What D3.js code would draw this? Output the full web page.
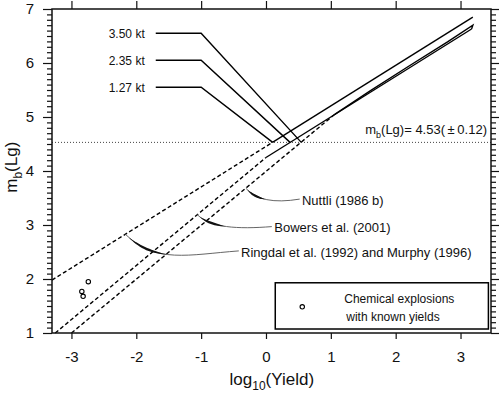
<!DOCTYPE html>
<html>
<head>
<meta charset="utf-8">
<script src="https://cdn.jsdelivr.net/npm/d3@7"></script>
<style>
  body { margin: 0; background: #fff; }
  svg { display: block; font-family: 'Liberation Sans', Arial, Helvetica, sans-serif; }
</style>
</head>
<body>
<div id="viz"></div>
<script>
const OUTER_WIDTH = 500;
const OUTER_HEIGHT = 394;
const MARGIN = { top: 9, right: 9, bottom: 61, left: 52 };

// x = log10(yield in kt), y = mb(Lg)
const X_DOMAIN = [-3.3, 3.47];
const Y_DOMAIN = [1, 7];
const xTicks = [-3, -2, -1, 0, 1, 2, 3];
const yTicks = [1, 2, 3, 4, 5, 6, 7];

const mbObserved = 4.53;
const mbError = 0.12;

// yield estimates and where their labels sit (mb)
const yieldsKt = [1.27, 2.35, 3.50];
const yieldLabelMb = [5.55, 6.05, 6.55];

// magnitude-yield relations, [log10 Y, mb]
const ringdalDashed = [[-3.3, 1.98], [0.10, 4.53]];
const ringdalSolid = [[0.10, 4.53], [3.19, 6.85]];
const bowersDashed = [[-3.25, 1.0], [0.0, 4.25]];
const bowersSolid = [[0.0, 4.25], [3.17, 6.63]];
const nuttliDashed = [[-3.0, 1.0], [1.06, 5.05]];
const nuttliSolid = [[1.06, 5.05], [1.6, 5.48], [2.2, 5.94], [2.8, 6.39], [3.19, 6.70], [3.17, 6.63]];

// chemical explosions with known yields
const chemLogYield = [-2.74, -2.84, -2.82];
const chemMb = [1.95, 1.77, 1.68];

const width = OUTER_WIDTH - MARGIN.left - MARGIN.right;
const height = OUTER_HEIGHT - MARGIN.top - MARGIN.bottom;

const x = d3.scaleLinear().domain(X_DOMAIN).range([0, width]);
const y = d3.scaleLinear().domain(Y_DOMAIN).range([height, 0]);
const line = d3.line().x(d => x(d[0])).y(d => y(d[1]));

const svg = d3.select('#viz')
              .append('svg')
                .attr('width', OUTER_WIDTH)
                .attr('height', OUTER_HEIGHT);

svg.append('rect')
   .attr('width', OUTER_WIDTH)
   .attr('height', OUTER_HEIGHT)
   .attr('fill', '#fff');

const inner = svg.append('g')
                 .attr('transform', `translate(${MARGIN.left}, ${MARGIN.top})`);

// axes
const minorY = d3.range(11, 70).filter(v => v % 10 !== 0).map(v => v / 10);

function styleAxis(g) {
  g.select('.domain').remove();
  g.selectAll('line').attr('stroke', '#111').attr('stroke-width', 1.2);
  g.selectAll('text').attr('fill', '#111').attr('font-size', 15);
}

inner.append('g')
     .attr('transform', `translate(0, ${height})`)
     .call(d3.axisBottom(x).tickValues(xTicks).tickSize(6).tickPadding(12)
             .tickFormat(d => d < 0 ? `-${-d}` : d))
     .call(styleAxis);
inner.append('g')
     .call(d3.axisTop(x).tickValues(xTicks).tickSize(8).tickFormat(() => ''))
     .call(styleAxis);
inner.append('g')
     .call(d3.axisLeft(y).tickValues(minorY).tickSize(5).tickFormat(() => ''))
     .call(styleAxis);
inner.append('g')
     .call(d3.axisLeft(y).tickValues(yTicks).tickSize(9).tickPadding(9).tickFormat(d3.format('d')))
     .call(styleAxis);
inner.append('g')
     .attr('transform', `translate(${width}, 0)`)
     .call(d3.axisRight(y).tickValues(minorY).tickSize(5).tickFormat(() => ''))
     .call(styleAxis);
inner.append('g')
     .attr('transform', `translate(${width}, 0)`)
     .call(d3.axisRight(y).tickValues(yTicks).tickSize(8).tickFormat(() => ''))
     .call(styleAxis);

// observed magnitude
inner.append('line')
     .attr('x1', 0)
     .attr('x2', width)
     .attr('y1', y(mbObserved))
     .attr('y2', y(mbObserved))
     .attr('stroke', '#444')
     .attr('stroke-width', 1)
     .attr('stroke-dasharray', '1,2');

const mbText = inner.append('text')
                    .attr('x', width - 4)
                    .attr('y', y(mbObserved) - 8)
                    .attr('text-anchor', 'end')
                    .attr('font-size', 13)
                    .attr('fill', '#111');
mbText.append('tspan').text('m');
mbText.append('tspan').attr('dy', 4).attr('font-size', 9).text('b');
mbText.append('tspan').attr('dy', -4).text(`(Lg)= ${mbObserved.toFixed(2)}(\u2009\u00b1\u2009${mbError.toFixed(2)})`);

// relations
const curves = inner.append('g')
                    .attr('fill', 'none')
                    .attr('stroke', '#000')
                    .attr('stroke-width', 1.4);
[ringdalDashed, bowersDashed, nuttliDashed].forEach(d => {
  curves.append('path').attr('d', line(d)).attr('stroke-dasharray', '4,2.5');
});
[ringdalSolid, bowersSolid, nuttliSolid].forEach(d => {
  curves.append('path').attr('d', line(d)).attr('stroke-linejoin', 'miter');
});

// yield labels with leader lines
yieldsKt.forEach((kt, i) => {
  const mb = yieldLabelMb[i];
  curves.append('path')
        .attr('d', line([[-1.70, mb], [-1.0, mb], [Math.log10(kt), mbObserved]]));
  inner.append('text')
       .attr('x', x(-1.87))
       .attr('y', y(mb))
       .attr('dy', '0.35em')
       .attr('text-anchor', 'end')
       .attr('font-size', 12)
       .attr('fill', '#111')
       .text(`${kt.toFixed(2)} kt`);
});

// chemical explosions
inner.append('g')
     .selectAll('circle')
     .data(chemLogYield)
     .enter().append('circle')
       .attr('cx', d => x(d))
       .attr('cy', (d, i) => y(chemMb[i]))
       .attr('r', 2.2)
       .attr('fill', 'none')
       .attr('stroke', '#000')
       .attr('stroke-width', 1.1);

// annotations with tapered arrows
function taperedArrow(g, d) {
  const p = g.append('path')
             .attr('d', d)
             .attr('fill', 'none')
             .attr('stroke', '#555')
             .attr('stroke-width', 0.9);
  const node = p.node();
  const L = node.getTotalLength();
  const left = [];
  const right = [];
  for (let i = 0; i <= 50; i++) {
    const t = i / 50;
    const pt = node.getPointAtLength(t * L);
    const a = node.getPointAtLength(Math.max(0, t * L - 0.5));
    const b = node.getPointAtLength(Math.min(L, t * L + 0.5));
    const len = Math.hypot(b.x - a.x, b.y - a.y) || 1;
    const nx = -(b.y - a.y) / len;
    const ny = (b.x - a.x) / len;
    const u = (t - 0.6) / 0.36;
    const w = u > 0 && u < 1 ? 1.2 * Math.sin(Math.PI * u) : 0;
    left.push([pt.x + nx * w, pt.y + ny * w]);
    right.push([pt.x - nx * w, pt.y - ny * w]);
  }
  g.append('path')
   .attr('d', d3.line()(left.concat(right.reverse())) + 'Z')
   .attr('fill', '#111');
}

const notes = inner.append('g');
const noteText = [
  { text: 'Nuttli (1986 b)', at: [0.555, 3.46] },
  { text: 'Bowers et al. (2001)', at: [0.128, 2.96] },
  { text: 'Ringdal et al. (1992) and Murphy (1996)', at: [-0.385, 2.50] },
];
noteText.forEach(n => {
  notes.append('text')
       .attr('x', x(n.at[0]))
       .attr('y', y(n.at[1]))
       .attr('dy', '0.35em')
       .attr('font-size', 13)
       .attr('fill', '#111')
       .text(n.text);
});

const px = (lx, mb) => `${x(lx).toFixed(1)},${y(mb).toFixed(1)}`;
taperedArrow(notes, `M${px(0.52, 3.48)} Q${px(-0.08, 3.36)} ${px(-0.31, 3.68)}`);
taperedArrow(notes, `M${px(0.09, 2.97)} C${px(-0.45, 2.92)} ${px(-0.85, 2.95)} ${px(-1.06, 3.19)}`);
taperedArrow(notes, `M${px(-0.42, 2.52)} C${px(-1.2, 2.45)} ${px(-1.7, 2.28)} ${px(-2.17, 2.83)}`);

// legend
const legend = inner.append('g')
                    .attr('transform', `translate(${x(0.143)}, ${y(1.93)})`);
legend.append('rect')
      .attr('width', x(3.43) - x(0.143))
      .attr('height', y(1.074) - y(1.93))
      .attr('fill', '#fff')
      .attr('stroke', '#000')
      .attr('stroke-width', 1.5);
legend.append('circle')
      .attr('cx', 27)
      .attr('cy', 24)
      .attr('r', 2.2)
      .attr('fill', 'none')
      .attr('stroke', '#000')
      .attr('stroke-width', 1.1);
legend.selectAll('text.lab')
      .data(['Chemical explosions', 'with known yields'])
      .enter().append('text')
        .attr('class', 'lab')
        .attr('x', (d, i) => 69 + i * 2)
        .attr('y', (d, i) => 16 + i * 18)
        .attr('dy', '0.35em')
        .attr('font-size', 12)
        .attr('fill', '#111')
        .text(d => d);

// frame
inner.append('rect')
     .attr('width', width)
     .attr('height', height)
     .attr('fill', 'none')
     .attr('stroke', '#111')
     .attr('stroke-width', 1.5);

// axis titles
const xTitle = svg.append('text')
                  .attr('x', MARGIN.left + x(0.09))
                  .attr('y', 385)
                  .attr('text-anchor', 'middle')
                  .attr('font-size', 17)
                  .attr('fill', '#111');
xTitle.append('tspan').text('log');
xTitle.append('tspan').attr('dy', 5).attr('font-size', 12).text('10');
xTitle.append('tspan').attr('dy', -5).text('(Yield)');

const yTitle = svg.append('text')
                  .attr('transform', `translate(17, ${MARGIN.top + y(4.07)}) rotate(-90)`)
                  .attr('text-anchor', 'middle')
                  .attr('font-size', 17)
                  .attr('fill', '#111');
yTitle.append('tspan').text('m');
yTitle.append('tspan').attr('dy', 5).attr('font-size', 12).text('b');
yTitle.append('tspan').attr('dy', -5).text('(Lg)');
</script>
</body>
</html>
